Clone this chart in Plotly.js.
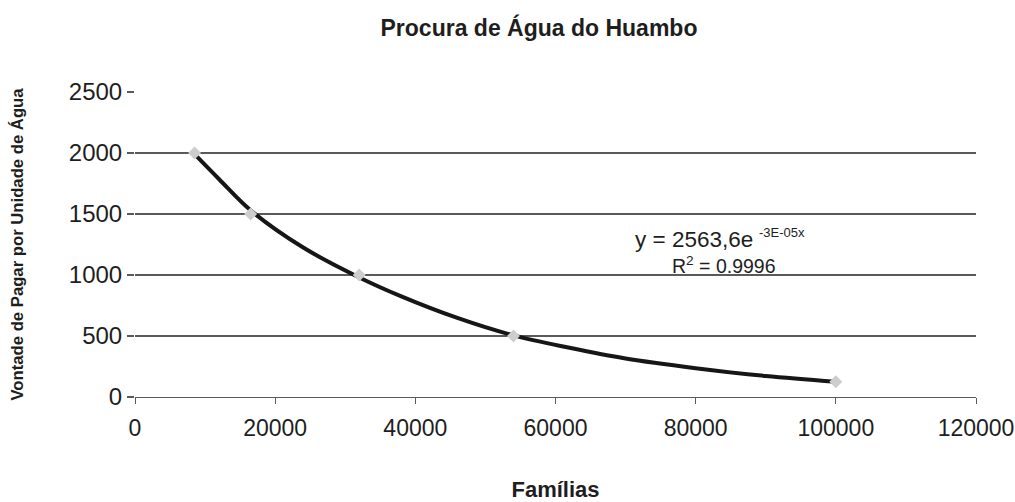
<!DOCTYPE html>
<html>
<head>
<meta charset="utf-8">
<script src="https://cdn.plot.ly/plotly-3.0.1.min.js"></script>
<style>
  html, body { margin: 0; padding: 0; background: #ffffff; }
  #chart { width: 1015px; height: 502px; }
</style>
</head>
<body>
<div id="chart"></div>
<script>
// ---- data ----
var familias = [8500, 16500, 32000, 54000, 100000];
var vontade = [2000, 1500, 1000, 500, 125];

// exponential trend line
var trendX = [8500, 12000, 16500, 24000, 32000, 38000, 46000, 54000, 62000, 70000, 80000, 90000, 100000];
var trendY = [1990, 1785, 1530, 1225, 980, 825, 648, 505, 403, 315, 236, 172, 125];

var xTicks = [0, 20000, 40000, 60000, 80000, 100000, 120000];
var yTicks = [0, 500, 1000, 1500, 2000, 2500];

var chartTitle = "Procura de Água do Huambo";
var xTitle = "Famílias";
var yTitle = "Vontade de Pagar por Unidade de Água";
var eqMain = "y = 2563,6e";
var eqExp = "-3E-05x";
var r2Text = "R<sup>2</sup> = 0.9996";

var FONT = "Liberation Sans, Arial, Helvetica, sans-serif";
var TXT = "#1e1e1e";
var GRID = "#5a5a5a";

var traces = [
  {
    x: trendX, y: trendY, type: "scatter", mode: "lines",
    line: { color: "#161616", width: 4, shape: "spline", smoothing: 1 },
    hoverinfo: "skip", showlegend: false
  },
  {
    x: familias, y: vontade, type: "scatter", mode: "markers",
    marker: { symbol: "diamond", size: 10, color: "#cdcdcd", line: { width: 0 } },
    showlegend: false
  }
];

var layout = {
  width: 1015, height: 502,
  paper_bgcolor: "#ffffff", plot_bgcolor: "#ffffff",
  margin: { l: 135, r: 39, t: 92, b: 105 },
  font: { family: FONT, color: TXT, size: 23 },
  showlegend: false,
  title: {
    text: "<b>" + chartTitle + "</b>",
    font: { family: FONT, size: 23, color: TXT },
    xref: "container", yref: "container",
    x: 539 / 1015, xanchor: "center",
    y: 1 - 28 / 502, yanchor: "middle"
  },
  xaxis: {
    range: [0, 120000], tickvals: xTicks, ticktext: xTicks.map(String),
    ticks: "outside", ticklen: 6, tickwidth: 1, tickcolor: GRID,
    showline: true, linecolor: GRID, linewidth: 1.3,
    showgrid: false, zeroline: false,
    tickfont: { family: FONT, size: 23, color: TXT },
    ticklabelstandoff: 4,
    title: { text: "<b>" + xTitle + "</b>", font: { family: FONT, size: 22, color: TXT }, standoff: 44 }
  },
  yaxis: {
    range: [0, 2500], tickvals: yTicks, ticktext: yTicks.map(String),
    ticks: "outside", ticklen: 7, tickwidth: 1.3, tickcolor: GRID,
    showline: false, showgrid: true, gridcolor: GRID, gridwidth: 1.3,
    zeroline: false,
    tickfont: { family: FONT, size: 24, color: TXT },
    title: { text: "<b>" + yTitle + "</b>", font: { family: FONT, size: 16.7, color: TXT }, standoff: 40 }
  },
  annotations: [
    {
      xref: "paper", yref: "paper",
      x: (633 - 135) / 841, y: (397 - 239) / 305,
      xanchor: "left", yanchor: "middle",
      text: eqMain, showarrow: false,
      font: { family: FONT, size: 22.5, color: TXT }
    },
    {
      xref: "paper", yref: "paper",
      x: (757 - 135) / 841, y: (397 - 232.7) / 305,
      xanchor: "left", yanchor: "middle",
      text: eqExp, showarrow: false,
      font: { family: FONT, size: 13, color: TXT }
    },
    {
      xref: "paper", yref: "paper",
      x: (669.5 - 135) / 841, y: (397 - 265) / 305,
      xanchor: "left", yanchor: "middle",
      text: r2Text, showarrow: false,
      font: { family: FONT, size: 19.5, color: TXT }
    }
  ]
};

Plotly.newPlot("chart", traces, layout, { displayModeBar: false, staticPlot: true });
</script>
</body>
</html>
